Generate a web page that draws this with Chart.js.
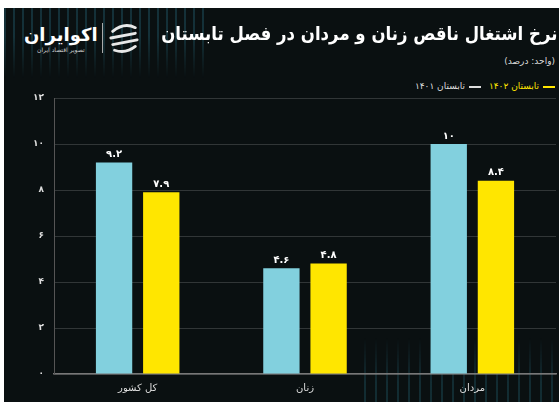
<!DOCTYPE html>
<html lang="fa">
<head>
<meta charset="UTF-8" />
<title>نرخ اشتغال ناقص زنان و مردان</title>
<script src="https://cdn.jsdelivr.net/npm/chart.js"></script>
<style>
  html, body { margin: 0; padding: 0; background: #fff; }
  .panel {
    position: absolute; left: 4px; top: 8px; width: 555px; height: 394px;
    background: #0a1011; overflow: hidden;
    font-family: "DejaVu Sans", sans-serif; color: #fff;
  }
  .stripes-top {
    position: absolute; left: 0; top: 0; width: 200px; height: 70px;
    background: repeating-linear-gradient(90deg, rgba(40,110,130,0.35) 0 2px, transparent 2px 9px);
    -webkit-mask-image: linear-gradient(180deg, #000 40%, transparent);
  }
  .stripes-bottom {
    position: absolute; left: 360px; top: 330px; width: 195px; height: 64px;
    background: repeating-linear-gradient(90deg, rgba(40,110,130,0.3) 0 2px, transparent 2px 11px);
    -webkit-mask-image: linear-gradient(0deg, #000 30%, transparent);
  }
  .title {
    position: absolute; right: 2px; top: 14px; direction: rtl;
    font-size: 19px; font-weight: bold; white-space: nowrap;
    transform: scaleX(0.87); transform-origin: right center;
  }
  .unit {
    position: absolute; right: 4px; top: 48px; direction: rtl;
    font-size: 9px; color: #ddd;
  }
  .legend {
    position: absolute; right: 4px; top: 73px; direction: rtl;
    font-size: 9px; display: flex; gap: 8px; align-items: center;
  }
  .legend span.dash { display: inline-block; width: 12px; height: 2px; margin-left: 4px; vertical-align: middle; }
  .logo { position: absolute; left: 20px; top: 14px; display: flex; align-items: center; gap: 4px; }
  .logo .name { font-size: 18px; font-weight: bold; direction: rtl; line-height: 22px; }
  .logo .tag { font-size: 6px; color: #ccc; direction: rtl; text-align: center; }
  .logo .sep { width: 1px; height: 30px; background: #aaa; }
  #chart { position: absolute; left: 0; top: 0; }
</style>
</head>
<body>
<div class="panel">
  <div class="stripes-top"></div>
  <div class="stripes-bottom"></div>
  <div class="logo">
    <div>
      <div class="name">اکوایران</div>
      <div class="tag">تصویر اقتصاد ایران</div>
    </div>
    <div class="sep"></div>
    <svg width="34" height="32" viewBox="0 0 36 34">
      <g fill="none" stroke="#e8e8e8" stroke-width="3" stroke-linecap="round">
        <path d="M6 10 Q18 0 30 6" />
        <path d="M4 17 L30 12" />
        <path d="M6 24 L32 19" />
        <path d="M8 30 Q20 34 30 26" />
      </g>
    </svg>
  </div>
  <div class="title">نرخ اشتغال ناقص زنان و مردان در فصل تابستان</div>
  <div class="unit">(واحد: درصد)</div>
  <div class="legend">
    <div style="color:#ffe600"><span class="dash" style="background:#ffe600"></span>تابستان ۱۴۰۲</div>
    <div style="color:#ddd"><span class="dash" style="background:#ddd"></span>تابستان ۱۴۰۱</div>
  </div>
  <canvas id="chart" width="555" height="394"></canvas>
</div>

<script>
const categories = ["کل کشور", "زنان", "مردان"];
const summer1401 = [9.2, 4.6, 10];
const summer1402 = [7.9, 4.8, 8.4];
const yTicks = [0, 2, 4, 6, 8, 10, 12];

function fa(n) {
  return String(n).replace(/[0-9]/g, d => "۰۱۲۳۴۵۶۷۸۹"[d]);
}

const barLabels = {
  id: "barLabels",
  afterDatasetsDraw(chart) {
    const ctx = chart.ctx;
    ctx.save();
    ctx.fillStyle = "#fff";
    ctx.font = "bold 10px 'DejaVu Sans'";
    ctx.textAlign = "center";
    ctx.textBaseline = "bottom";
    chart.data.datasets.forEach((ds, i) => {
      chart.getDatasetMeta(i).data.forEach((bar, j) => {
        ctx.fillText(fa(ds.data[j]), bar.x, bar.y - 3);
      });
    });
    ctx.restore();
  }
};

Chart.defaults.font.family = "'DejaVu Sans', sans-serif";
Chart.defaults.color = "#ddd";

new Chart(document.getElementById("chart"), {
  type: "bar",
  data: {
    labels: categories,
    datasets: [
      { label: "تابستان ۱۴۰۱", data: summer1401, backgroundColor: "#82d0de" },
      { label: "تابستان ۱۴۰۲", data: summer1402, backgroundColor: "#ffe600" }
    ]
  },
  options: {
    responsive: false,
    animation: false,
    categoryPercentage: 0.564,
    barPercentage: 0.77,
    layout: { padding: { top: 90, right: 3 } },
    plugins: { legend: { display: false }, tooltip: { enabled: false } },
    scales: {
      x: {
        grid: { display: false, drawTicks: false },
        border: { color: "#777", width: 1.5 },
        ticks: { color: "#ddd", font: { size: 10 }, padding: 8 },
        afterFit: s => { s.height = 28; }
      },
      y: {
        min: 0, max: 12,
        afterBuildTicks: s => { s.ticks = yTicks.map(v => ({ value: v })); },
        grid: { color: "rgba(255,255,255,0.16)", drawTicks: false },
        border: { color: "#555" },
        ticks: { color: "#ddd", font: { size: 9, weight: "bold" }, padding: 10, callback: v => fa(v) },
        afterFit: s => { s.width = 50; }
      }
    }
  },
  plugins: [barLabels]
});
</script>
</body>
</html>
